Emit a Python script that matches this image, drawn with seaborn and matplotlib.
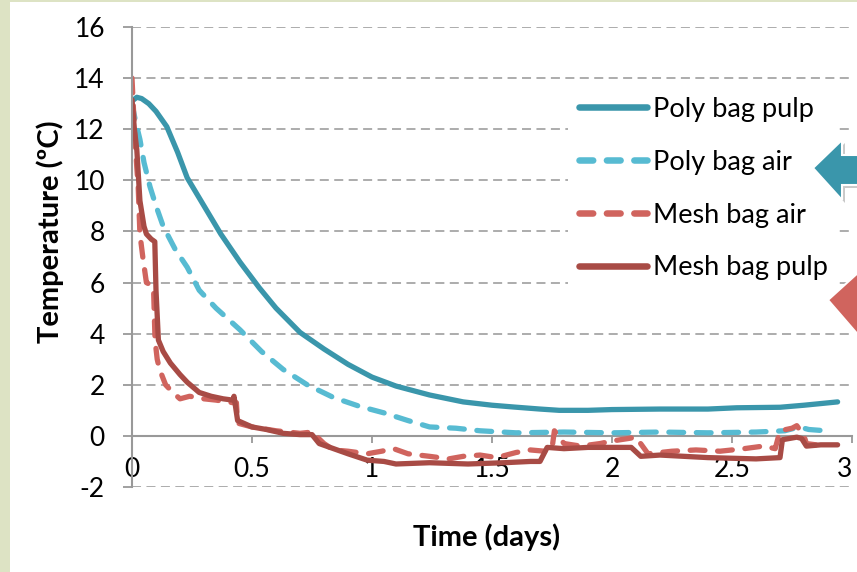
import matplotlib.pyplot as plt
import matplotlib.patches as mpatches
import seaborn as sns

# time (days) and temperature (degC)
poly_pulp_t = [0, 0.02, 0.04, 0.07, 0.1, 0.145, 0.19, 0.23, 0.3, 0.37, 0.45, 0.53, 0.6, 0.7, 0.8, 0.9,
               1.0, 1.1, 1.24, 1.38, 1.5, 1.59, 1.7, 1.78, 1.9, 2.0, 2.2, 2.4, 2.52, 2.7, 2.8, 2.94]
poly_pulp_T = [13.1, 13.25, 13.2, 13.0, 12.7, 12.1, 11.1, 10.1, 9.0, 7.9, 6.8, 5.8, 5.0, 4.05, 3.4, 2.8,
               2.3, 1.95, 1.6, 1.33, 1.2, 1.13, 1.05, 1.0, 1.0, 1.03, 1.05, 1.05, 1.1, 1.12, 1.2, 1.33]

poly_air_t = [0, 0.015, 0.033, 0.05, 0.075, 0.1, 0.13, 0.18, 0.23, 0.28, 0.35, 0.45, 0.54, 0.63, 0.73, 0.84,
              0.95, 1.05, 1.15, 1.24, 1.35, 1.45, 1.6, 1.8, 2.0, 2.2, 2.4, 2.6, 2.72, 2.78, 2.82, 2.89]
poly_air_T = [13.0, 12.3, 11.6, 10.7, 9.75, 9.0, 8.2, 7.3, 6.6, 5.7, 5.0, 4.15, 3.3, 2.6, 2.0, 1.5,
              1.15, 0.9, 0.6, 0.35, 0.3, 0.2, 0.12, 0.15, 0.12, 0.15, 0.12, 0.15, 0.2, 0.35, 0.25, 0.2]

mesh_air_t = [0, 0.005, 0.01, 0.02, 0.026, 0.033, 0.045, 0.06, 0.08, 0.09, 0.096, 0.105, 0.115, 0.14, 0.17,
              0.2, 0.24, 0.3, 0.35, 0.42, 0.435, 0.44, 0.5, 0.6, 0.7, 0.75, 0.8, 0.84, 0.9, 0.98, 1.04,
              1.09, 1.15, 1.24, 1.32, 1.38, 1.45, 1.52, 1.6, 1.66, 1.72, 1.75, 1.76, 1.8, 1.87, 1.95,
              2.0, 2.07, 2.1, 2.15, 2.25, 2.35, 2.45, 2.55, 2.63, 2.68, 2.7, 2.75, 2.77, 2.8, 2.81, 2.85, 2.9]
mesh_air_T = [14.0, 13.0, 12.0, 10.5, 9.7, 7.9, 7.0, 6.0, 5.9, 5.7, 3.75, 3.0, 2.6, 2.0, 1.7,
              1.45, 1.55, 1.45, 1.4, 1.3, 1.3, 0.5, 0.35, 0.2, 0.1, 0.15, -0.3, -0.55, -0.6, -0.7, -0.6,
              -0.5, -0.7, -0.8, -0.9, -0.8, -0.75, -0.85, -0.65, -0.55, -0.6, -0.5, 0.2, -0.3, -0.4, -0.3,
              -0.2, -0.1, -0.05, -0.7, -0.6, -0.55, -0.6, -0.5, -0.4, -0.5, 0.2, 0.3, 0.4, 0.0, -0.3, -0.35, -0.3]

mesh_pulp_t = [0, 0.01, 0.02, 0.033, 0.05, 0.06, 0.08, 0.095, 0.1, 0.11, 0.13, 0.16, 0.2, 0.23, 0.28, 0.33,
               0.38, 0.42, 0.425, 0.44, 0.5, 0.56, 0.63, 0.7, 0.75, 0.78, 0.81, 0.9, 0.98, 1.05, 1.1, 1.24,
               1.4, 1.55, 1.66, 1.7, 1.73, 1.8, 1.9, 2.0, 2.08, 2.12, 2.2, 2.4, 2.6, 2.7, 2.71, 2.77, 2.79,
               2.81, 2.87, 2.94]
mesh_pulp_T = [13.15, 12.0, 11.2, 9.2, 8.2, 7.9, 7.7, 7.6, 5.7, 3.75, 3.3, 2.85, 2.4, 2.1, 1.7, 1.55,
               1.45, 1.4, 1.55, 0.6, 0.35, 0.25, 0.1, 0.05, 0.05, -0.3, -0.4, -0.7, -0.95, -1.0, -1.1, -1.05,
               -1.1, -1.05, -1.0, -1.0, -0.45, -0.5, -0.45, -0.45, -0.45, -0.8, -0.75, -0.85, -0.9, -0.85,
               -0.15, -0.05, -0.1, -0.4, -0.35, -0.35]

x_ticks = [0, 0.5, 1, 1.5, 2, 2.5, 3]
x_tick_labels = ["0", "0.5", "1", "1.5", "2", "2.5", "3"]
y_ticks = [-2, 0, 2, 4, 6, 8, 10, 12, 14, 16]
y_tick_labels = ["-2", "0", "2", "4", "6", "8", "10", "12", "14", "16"]

series = [
    ("Poly bag pulp", poly_pulp_t, poly_pulp_T, "#3a96ab", False),
    ("Poly bag air", poly_air_t, poly_air_T, "#57bbd2", True),
    ("Mesh bag air", mesh_air_t, mesh_air_T, "#d0645e", True),
    ("Mesh bag pulp", mesh_pulp_t, mesh_pulp_T, "#a84b45", False),
]

sns.set_theme(style="white")
plt.rcParams['font.family'] = ['Lato', 'DejaVu Sans']
plt.rcParams['axes.unicode_minus'] = False
plt.rcParams['text.color'] = 'black'

W, H = 857, 572
fig = plt.figure(figsize=(W / 100, H / 100), dpi=100, facecolor='#dde3c4')
fig.add_artist(mpatches.Rectangle((10 / W, 0), (W - 10) / W, 1 - 2 / H, transform=fig.transFigure,
                                  facecolor='white', edgecolor='none', zorder=-1))
ax = fig.add_axes([132 / W, 1 - 487 / H, 720 / W, 460 / H])
ax.set_facecolor('white')

for label, t, T, color, dashed in series:
    kw = dict(linestyle=(0, (2.8, 2.4)), dash_capstyle='round') if dashed else dict(solid_capstyle='round')
    sns.lineplot(x=t, y=T, ax=ax, color=color, linewidth=3.8, estimator=None, sort=False,
                 label=label, solid_joinstyle='round', **kw)

ax.set_xlim(0, 3)
ax.set_ylim(-2, 16)
ax.set_xticks(x_ticks)
ax.set_xticklabels(x_tick_labels)
ax.set_yticks(y_ticks)
ax.set_yticklabels(y_tick_labels)
ax.yaxis.grid(True, color='#a6a6a6', linestyle=(0, (5, 3)), linewidth=1.3)
ax.xaxis.grid(False)
ax.set_axisbelow(True)

for side in ['top', 'right']:
    ax.spines[side].set_visible(False)
ax.spines['left'].set_color('#999999')
ax.spines['left'].set_linewidth(1.5)
ax.spines['bottom'].set_color('#999999')
ax.spines['bottom'].set_linewidth(1.5)
ax.spines['bottom'].set_position(('data', 0))
ax.spines['bottom'].set_zorder(1.5)

ax.tick_params(axis='y', left=True, direction='out', length=6.5, width=1.3, color='#999999',
               pad=13, labelsize=19, labelcolor='black')
ax.tick_params(axis='x', bottom=True, direction='out', length=5, width=1.3, color='#999999',
               pad=10, labelsize=19, labelcolor='black')

ax.set_xlabel("Time (days)", fontsize=21, fontweight='bold', color='black')
ax.set_ylabel("Temperature (ºC)", fontsize=21, fontweight='bold', color='black')
ax.xaxis.set_label_coords(0.493, -0.08)
ax.yaxis.set_label_coords(-0.094, 0.556)

leg = ax.legend(loc='upper left', bbox_to_anchor=(0.6056, 0.872), frameon=True, facecolor='white',
                edgecolor='none', framealpha=1, fancybox=False, fontsize=19.5, handlelength=2.5,
                handletextpad=0.22, labelspacing=1.03, borderaxespad=0, borderpad=0.4)
for line, (label, t, T, color, dashed) in zip(leg.get_lines(), series):
    line.set_linewidth(4.7)
    if dashed:
        line.set_linestyle((0, (2.1, 2.1)))
        line.set_dash_capstyle('round')
    else:
        line.set_solid_capstyle('round')


def px(points):
    return [(x / W, 1 - y / H) for x, y in points]


# callout arrows on the right edge of the slide
teal_arrow = [(813, 168), (842, 140), (842, 155), (870, 155), (870, 185), (842, 185), (842, 200)]
red_arrow = [(828, 300), (860, 271), (860, 337)]
for pts, color in [(teal_arrow, '#3a96ab'), (red_arrow, '#d0645e')]:
    shadow = [(x + 3, y + 3) for x, y in pts]
    fig.add_artist(mpatches.Polygon(px(shadow), closed=True, transform=fig.transFigure,
                                    facecolor='#888888', alpha=0.45, edgecolor='none', zorder=5))
    fig.add_artist(mpatches.Polygon(px(pts), closed=True, transform=fig.transFigure,
                                    facecolor=color, edgecolor='white', linewidth=1.5, zorder=6))

# the last x label sits just inside the right edge, like the original
fig.canvas.draw()
for tick in ax.xaxis.get_major_ticks():
    if tick.get_loc() == x_ticks[-1]:
        tick.label1.set_horizontalalignment('right')

fig.savefig('out.png', dpi=100, facecolor=fig.get_facecolor())
